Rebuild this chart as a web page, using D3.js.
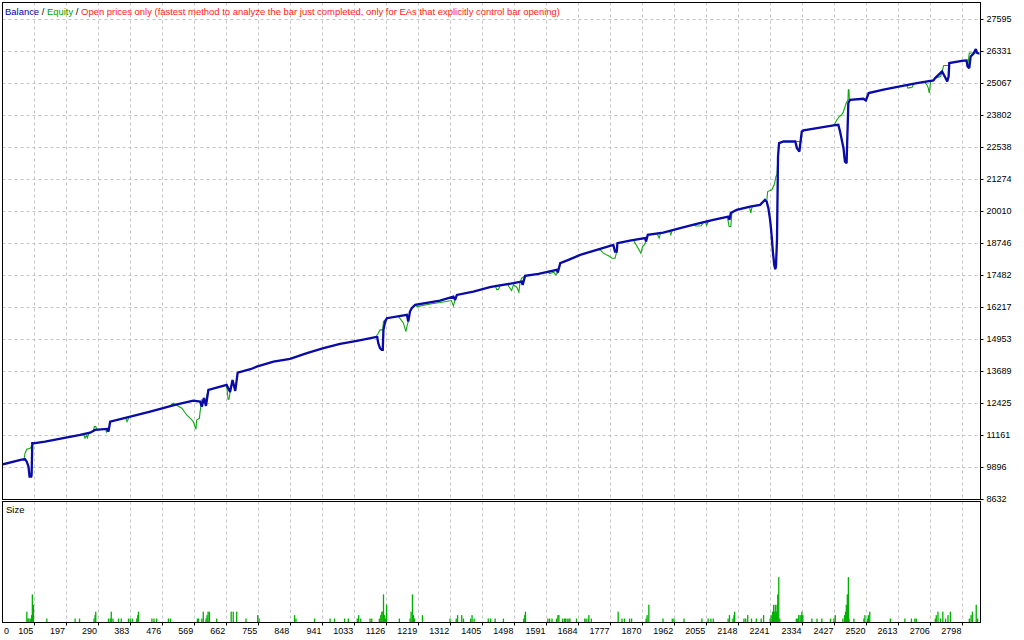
<!DOCTYPE html>
<html>
<head>
<meta charset="utf-8">
<script src="https://cdn.jsdelivr.net/npm/d3@7"></script>
<style>
html,body{margin:0;padding:0;background:#fff;}
svg{display:block;}
text{font-family:"Liberation Sans",Arial,sans-serif;font-size:9px;}
</style>
</head>
<body>
<svg id="chart" width="1024" height="640"></svg>
<script>
// ---- data ----
const xTicks = [105,197,290,383,476,569,662,755,848,941,1033,1126,1219,1312,1405,1498,1591,1684,1777,1870,1962,2055,2148,2241,2334,2427,2520,2613,2706,2798];
const yTicks = [8632,9896,11161,12425,13689,14953,16217,17482,18746,20010,21274,22538,23802,25067,26331,27595];

const balance = [
[14,10015],[68,10197],[78,10212],[83,10117],[88,9922],[91,9525],[96,9525],[97,9600],[99,10844],
[102,10844],[136,10907],[238,11172],[267,11263],[281,11370],[316,11409],[320,11302],[325,11697],
[392,11922],[441,12093],[513,12357],[566,12527],[586,12488],[591,12290],[597,12634],[603,12318],
[610,12950],[663,13148],[673,12871],[680,13345],[688,12910],[695,13633],[732,13768],[750,13870],
[799,14068],[847,14174],[896,14400],[944,14597],[992,14767],[1041,14886],[1095,15032],[1100,15032],
[1103,14795],[1108,14597],[1113,14530],[1116,14530],[1118,15320],[1123,15648],[1128,15783],
[1186,15913],[1190,15648],[1195,16043],[1200,16178],[1210,16308],[1282,16478],[1321,16636],
[1326,16505],[1331,16703],[1379,16833],[1427,17007],[1447,17058],[1495,17164],[1519,17229],
[1522,17098],[1529,17454],[1568,17532],[1621,17691],[1624,17584],[1631,17955],[1655,18086],
[1689,18283],[1737,18480],[1785,18678],[1790,18414],[1795,18414],[1797,18746],[1833,18848],
[1877,18943],[1880,18809],[1885,19073],[1930,19164],[1979,19338],[2027,19508],[2075,19666],
[2119,19796],[2122,19666],[2126,19931],[2143,20061],[2182,20191],[2211,20259],[2225,20455],
[2230,20389],[2235,20128],[2240,19666],[2243,19271],[2245,18943],[2248,18414],[2252,17888],
[2255,17718],[2257,17821],[2260,18876],[2263,22167],[2266,22696],[2279,22759],[2313,22759],
[2318,22496],[2325,22364],[2329,22826],[2332,23154],[2337,23194],[2376,23289],[2424,23392],
[2438,23419],[2443,23154],[2453,22496],[2457,21969],[2462,21906],[2467,24276],[2472,24407],
[2511,24446],[2518,24380],[2526,24671],[2569,24802],[2617,24932],[2666,25064],[2714,25169],
[2719,25263],[2739,25525],[2749,25263],[2754,25130],[2758,25327],[2760,25857],[2801,25948],
[2810,25959],[2813,25722],[2818,25659],[2822,26117],[2830,26223],[2837,26409],[2840,26276],
[2846,26223]
];

// equity excursions away from balance (each segment starts/ends on the balance curve)
const equitySegments = [
[[75,10212],[78,10449],[83,10607],[93,10647],[97,10738],[101,10844]],
[[248,11200],[252,11050],[256,11150],[259,11060],[263,11260]],
[[276,11300],[279,11500],[283,11500],[287,11380]],
[[312,11400],[314,11290],[318,11400]],
[[370,11840],[374,11700],[380,11880]],
[[500,12330],[508,12424],[533,12227],[547,11962],[562,11765],[566,11698],[574,11397],[576,11765],[584,11832],[586,12093],[591,12555],[600,12450],[610,12950]],
[[663,13148],[667,12582],[670,12582],[673,12871]],
[[1095,15032],[1103,15190],[1108,15320],[1116,15320],[1118,15648],[1128,15783]],
[[1160,15880],[1169,15715],[1176,15585],[1183,15253],[1186,15451],[1190,15648]],
[[1210,16308],[1216,16240],[1250,16330],[1300,16440],[1315,16480],[1321,16268],[1326,16505]],
[[1443,17048],[1447,16900],[1452,16920],[1456,17065]],
[[1478,17150],[1483,17007],[1490,16872],[1495,17098],[1505,17007],[1511,16809],[1514,17164],[1519,17362],[1529,17454]],
[[1596,17610],[1600,17540],[1612,17600],[1618,17492],[1624,17584]],
[[1740,18490],[1747,18480],[1756,18350],[1775,18216],[1781,18152],[1790,18152],[1795,18414]],
[[1838,18860],[1843,18875],[1857,18547],[1865,18350],[1870,18611],[1875,18678],[1880,18809]],
[[1912,19128],[1918,18943],[1922,19140]],
[[1948,19230],[1952,19073],[1956,19250]],
[[2020,19480],[2024,19420],[2040,19430],[2045,19530]],
[[2052,19590],[2056,19450],[2061,19610]],
[[2116,19786],[2121,19402],[2126,19402],[2129,19931]],
[[2180,20185],[2184,19930],[2188,20195]],
[[2230,20389],[2233,20784],[2245,20850],[2252,21048],[2257,21376],[2260,21443],[2263,22167]],
[[2313,22759],[2318,22758],[2329,22758],[2332,23154]],
[[2424,23392],[2429,23486],[2434,23616],[2441,23747],[2448,23814],[2453,23944],[2461,24276],[2466,24407],[2467,24802],[2469,24802],[2470,24407],[2472,24407]],
[[2636,24985],[2640,24869],[2652,24900],[2656,25010]],
[[2680,25090],[2688,25094],[2695,24999],[2699,24869],[2702,24671],[2704,24932],[2706,25130],[2714,25169]],
[[2719,25263],[2735,25327],[2744,25762],[2760,25762]],
[[2813,25722],[2815,25900],[2818,26252],[2838,26252],[2846,26223],[2849,26200]]
];

// lot sizes per trade [trade, lots]
const sizes = [
[83,0.03],[86,0.01],[89,0.01],[93,0.01],[97,0.02],[99,0.08],[102,0.05],[141,0.01],[223,0.01],[236,0.01],
[278,0.01],[281,0.02],[283,0.03],[320,0.01],[325,0.01],[328,0.03],[333,0.01],[349,0.01],[357,0.01],
[378,0.01],[383,0.01],[389,0.01],[402,0.01],[405,0.02],[407,0.03],[446,0.01],[452,0.01],[460,0.01],
[494,0.01],[500,0.01],[578,0.01],[581,0.01],[591,0.01],[595,0.03],[603,0.01],[606,0.02],[609,0.03],[613,0.03],
[634,0.01],[676,0.03],[682,0.03],[692,0.03],[719,0.01],[753,0.02],[757,0.01],[860,0.02],[864,0.01],
[918,0.01],[963,0.01],[976,0.01],[1005,0.01],[1016,0.01],[1042,0.01],[1046,0.02],[1052,0.01],
[1079,0.01],[1084,0.01],[1106,0.01],[1110,0.02],[1113,0.03],[1116,0.03],[1118,0.08],[1121,0.02],[1124,0.01],[1127,0.05],
[1164,0.01],[1195,0.01],[1198,0.03],[1202,0.08],[1205,0.02],[1208,0.01],[1231,0.02],[1311,0.01],
[1329,0.01],[1333,0.02],[1345,0.02],[1350,0.01],[1371,0.01],[1375,0.02],[1381,0.01],[1422,0.01],[1429,0.01],
[1442,0.01],[1466,0.01],[1525,0.01],[1528,0.02],[1530,0.03],[1595,0.01],[1600,0.01],[1607,0.01],[1620,0.01],
[1624,0.02],[1627,0.02],[1638,0.01],[1643,0.01],[1646,0.01],[1651,0.01],[1656,0.01],[1659,0.01],[1678,0.01],
[1702,0.01],[1706,0.01],[1712,0.01],[1714,0.02],[1721,0.01],[1799,0.03],[1810,0.01],[1817,0.01],[1832,0.01],[1838,0.01],
[1880,0.01],[1883,0.02],[1888,0.05],[1929,0.01],[1956,0.01],[1961,0.01],[1990,0.01],[2042,0.01],
[2060,0.01],[2068,0.01],[2075,0.01],[2118,0.01],[2122,0.02],[2132,0.01],[2135,0.02],[2137,0.03],
[2164,0.01],[2169,0.01],[2175,0.02],[2186,0.01],[2200,0.01],[2214,0.01],[2221,0.02],
[2240,0.01],[2243,0.02],[2247,0.03],[2250,0.05],[2253,0.03],[2255,0.05],[2258,0.03],[2260,0.05],[2262,0.08],[2265,0.13],[2268,0.01],
[2316,0.01],[2320,0.01],[2323,0.02],[2327,0.02],[2331,0.02],[2332,0.03],[2335,0.02],
[2361,0.01],[2376,0.01],[2390,0.01],[2415,0.01],[2425,0.01],[2429,0.02],
[2451,0.01],[2456,0.02],[2459,0.03],[2461,0.05],[2464,0.08],[2467,0.13],[2469,0.01],[2483,0.01],
[2512,0.01],[2515,0.02],[2522,0.01],[2525,0.02],[2529,0.03],[2589,0.01],[2631,0.01],
[2650,0.01],[2660,0.01],[2664,0.01],[2719,0.01],[2722,0.02],[2727,0.03],[2734,0.01],[2741,0.03],
[2749,0.01],[2756,0.02],[2763,0.03],[2818,0.01],[2823,0.02],[2827,0.03],[2838,0.05],[2842,0.01]
];

// ---- layout ----
const svg = d3.select("#chart");
const L = 2.5, R = 980.5, T = 2.5, MB = 499.5, LT = 501.5, LB = 622.5;

const x = d3.scaleLinear().domain([14, 2852]).range([3, 981]);
const y = d3.scaleLinear().domain([8632, 27595]).range([499.3, 19]);
const ys = d3.scaleLinear().domain([0, 0.35]).range([622, 501.25]);

svg.append("rect").attr("width",1024).attr("height",640).attr("fill","#fff");

const crisp = v => Math.round(v) + 0.5;

// grid
const grid = svg.append("g").attr("stroke","#c4c4c4").attr("stroke-width",1).attr("stroke-dasharray","3,3");
grid.selectAll("line.h").data(yTicks.slice(1)).enter().append("line")
  .attr("x1",L).attr("x2",R).attr("y1",d=>crisp(y(d)-0.5)).attr("y2",d=>crisp(y(d)-0.5));
grid.selectAll("line.v1").data(xTicks).enter().append("line")
  .attr("x1",d=>crisp(x(d)-0.5)).attr("x2",d=>crisp(x(d)-0.5)).attr("y1",T).attr("y2",MB);
grid.selectAll("line.v2").data(xTicks).enter().append("line")
  .attr("x1",d=>crisp(x(d)-0.5)).attr("x2",d=>crisp(x(d)-0.5)).attr("y1",LT).attr("y2",LB);

// clip
svg.append("clipPath").attr("id","clipMain").append("rect").attr("x",L+0.5).attr("y",T+0.5).attr("width",R-L-1).attr("height",MB-T-1);
svg.append("clipPath").attr("id","clipLow").append("rect").attr("x",L+0.5).attr("y",LT+0.5).attr("width",R-L-1).attr("height",LB-LT-1);

const line = d3.line().x(d=>x(d[0])).y(d=>y(d[1]));

const main = svg.append("g").attr("clip-path","url(#clipMain)");
main.append("path").datum(balance).attr("d",line).attr("fill","none")
  .attr("stroke","#10a810").attr("stroke-width",1);
main.selectAll("path.eq").data(equitySegments).enter().append("path").attr("class","eq")
  .attr("d",line).attr("fill","none").attr("stroke","#10a810").attr("stroke-width",1.1);
main.append("path").datum(balance).attr("d",line).attr("fill","none")
  .attr("stroke","#0a0aa8").attr("stroke-width",2.3).attr("stroke-linejoin","miter").attr("stroke-miterlimit",2);

// size bars
const low = svg.append("g").attr("clip-path","url(#clipLow)");
low.selectAll("rect").data(sizes).enter().append("rect")
  .attr("x",d=>x(d[0])-0.6).attr("width",1.3)
  .attr("y",d=>ys(d[1])).attr("height",d=>ys(0)-ys(d[1]))
  .attr("fill","#00b000");

// frames
const frame = svg.append("g").attr("fill","none").attr("stroke","#000").attr("stroke-width",1);
frame.append("rect").attr("x",L).attr("y",T).attr("width",R-L).attr("height",MB-T);
frame.append("rect").attr("x",L).attr("y",LT).attr("width",R-L).attr("height",LB-LT);

// right axis labels + ticks
const ra = svg.append("g");
ra.selectAll("line").data(yTicks).enter().append("line")
  .attr("x1",R).attr("x2",R+3).attr("y1",d=>crisp(y(d)-0.5)).attr("y2",d=>crisp(y(d)-0.5))
  .attr("stroke","#000");
ra.selectAll("text").data(yTicks).enter().append("text")
  .attr("x",986.5).attr("y",d=>y(d)).attr("dy","0.35em").attr("fill","#000").text(d=>d);

// bottom axis labels + ticks
const ba = svg.append("g");
ba.selectAll("line").data(xTicks).enter().append("line")
  .attr("x1",d=>crisp(x(d)-0.5)).attr("x2",d=>crisp(x(d)-0.5)).attr("y1",LB).attr("y2",LB+3)
  .attr("stroke","#000");
ba.selectAll("text").data(xTicks).enter().append("text")
  .attr("x",d=>x(d)-1).attr("y",631).attr("dy","0.35em").attr("text-anchor","end").attr("fill","#000").text(d=>d);
ba.append("text").attr("x",4).attr("y",631).attr("dy","0.35em").attr("fill","#000").text("0");

// legend
const lg = svg.append("text").attr("x",5).attr("y",12).attr("dy","0.35em")
  .style("font-size","9.5px").attr("textLength",555).attr("lengthAdjust","spacingAndGlyphs");
lg.append("tspan").attr("fill","#0000a0").text("Balance");
lg.append("tspan").attr("fill","#000").text(" / ");
lg.append("tspan").attr("fill","#00a000").text("Equity");
lg.append("tspan").attr("fill","#000").text(" / ");
lg.append("tspan").attr("fill","#ff2020").text("Open prices only (fastest method to analyze the bar just completed, only for EAs that explicitly control bar opening)");

svg.append("text").attr("x",6).attr("y",510).attr("dy","0.35em").style("font-size","9.5px").attr("fill","#000").text("Size");
</script>
</body>
</html>
